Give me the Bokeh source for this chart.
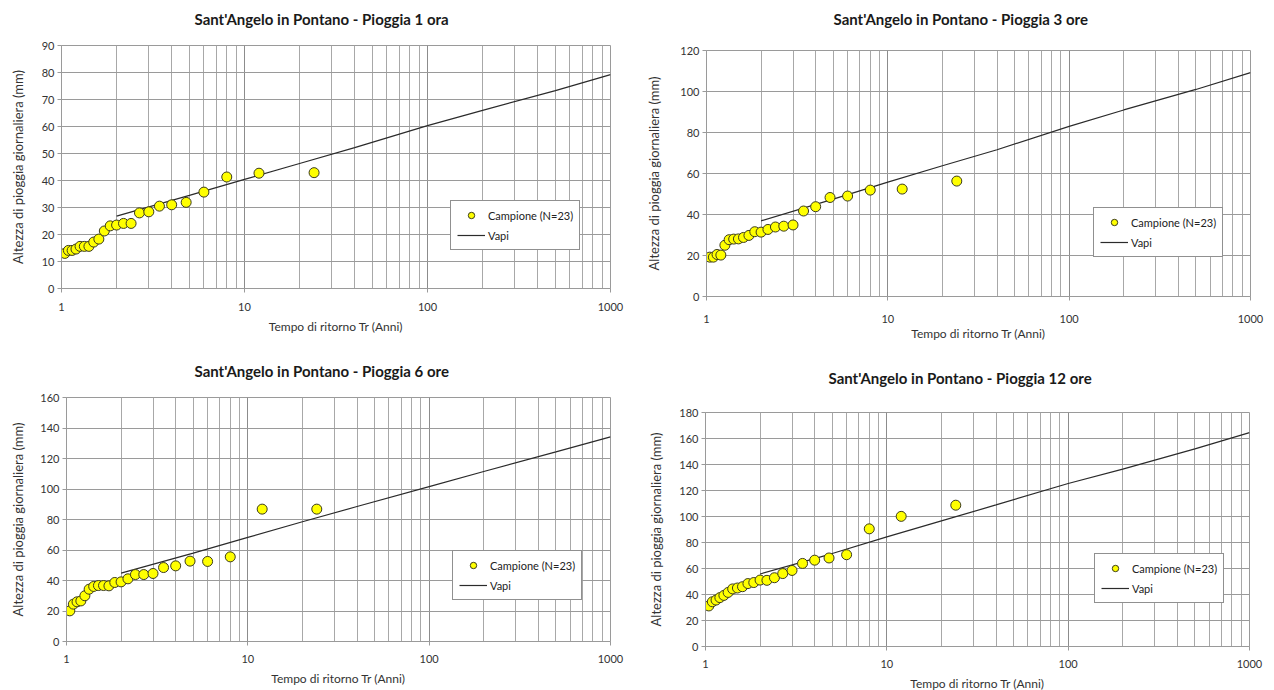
from bokeh.plotting import figure
from bokeh.models import (Range1d, FixedTicker, NumeralTickFormatter, Legend, LegendItem, Title)
from bokeh.layouts import column, row
from bokeh.embed import file_html
from bokeh.resources import INLINE

# Return periods (Weibull plotting positions, N=23)
tr = [1.043, 1.091, 1.143, 1.2, 1.263, 1.333, 1.412, 1.5, 1.6, 1.714, 1.846, 2.0,
      2.182, 2.4, 2.667, 3.0, 3.429, 4.0, 4.8, 6.0, 8.0, 12.0, 24.0]

h_1ora = [13.0, 14.1, 14.1, 14.6, 15.6, 15.6, 15.6, 17.2, 18.3, 21.3, 23.2, 23.5,
          24.1, 24.1, 28.0, 28.4, 30.5, 31.0, 31.9, 35.7, 41.3, 42.7, 42.9]
h_3ore = [19.2, 19.2, 20.5, 20.2, 25.0, 27.7, 28.0, 28.1, 28.8, 29.8, 31.6, 31.4,
          32.7, 33.9, 34.3, 34.9, 41.7, 43.8, 48.3, 49.0, 51.9, 52.4, 56.3]
h_6ore = [20.1, 24.5, 26.0, 26.6, 30.0, 34.3, 36.1, 36.7, 36.7, 36.5, 38.7, 39.1,
          41.1, 43.9, 43.9, 44.6, 48.5, 49.6, 52.7, 52.5, 55.5, 86.8, 86.8]
h_12ore = [31.2, 34.4, 35.7, 37.6, 39.3, 41.6, 44.3, 45.0, 46.0, 48.4, 49.2, 51.1,
           50.9, 52.9, 56.1, 58.5, 63.9, 66.4, 68.1, 70.6, 90.5, 100.1, 108.7]

# VAPI growth curves
vapi_tr = [2, 5, 10, 20, 40, 100, 200, 500, 1000]
vapi_1ora = [26.8, 34.5, 40.4, 46.3, 52.2, 60.3, 66.0, 73.3, 79.2]
vapi_3ore = [36.9, 47.5, 55.8, 63.8, 71.6, 83.0, 91.0, 101.0, 109.2]
vapi_6ore = [44.8, 58.0, 68.3, 78.5, 88.5, 101.6, 111.5, 124.3, 134.2]
vapi_12ore = [55.8, 71.5, 84.3, 96.6, 108.9, 125.4, 136.5, 152.0, 164.5]

titles = ["Sant'Angelo in Pontano - Pioggia 1 ora", "Sant'Angelo in Pontano - Pioggia 3 ore",
          "Sant'Angelo in Pontano - Pioggia 6 ore", "Sant'Angelo in Pontano - Pioggia 12 ore"]
ymax = [90, 120, 160, 180]
ystep = [10, 20, 20, 20]

FONT = "Lato"

# per panel: frame_w, frame_h, borders (l, r, t, b), top margin shift, title offset/standoff,
# legend location, x tick standoff, x label standoff, y label standoff
layouts = [
    dict(fw=549, fh=243, l=61, r=27, t=56, b=56, m=-11, toff=133, tst=35, leg=(389, 38), xs=10, xls=5, yls=13),
    dict(fw=544, fh=246, l=69, r=16, t=66, b=48, m=-16, toff=127, tst=45, leg=(387, 39), xs=14, xls=0, yls=15),
    dict(fw=544, fh=244, l=66, r=27, t=57, b=49, m=-4, toff=128, tst=36, leg=(386, 41), xs=9, xls=5, yls=11),
    dict(fw=544, fh=234, l=68, r=17, t=72, b=44, m=-4, toff=123, tst=51, leg=(389, 43), xs=9, xls=5, yls=12),
]

series = [(h_1ora, vapi_1ora), (h_3ore, vapi_3ore), (h_6ore, vapi_6ore), (h_12ore, vapi_12ore)]

figs = []
for i in range(4):
    L = layouts[i]
    hs, vp = series[i]
    p = figure(frame_width=L["fw"], frame_height=L["fh"], x_axis_type="log",
               x_range=Range1d(1, 1000), y_range=Range1d(0, ymax[i]),
               output_backend="svg", toolbar_location=None,
               min_border_left=L["l"], min_border_right=L["r"],
               min_border_top=L["t"], min_border_bottom=L["b"],
               margin=(L["m"], 0, 0, 0))
    p.title = Title(text=titles[i], align="left", offset=L["toff"], standoff=L["tst"],
                    text_font=FONT, text_font_size="15px", text_font_style="bold",
                    text_color="#1a1a1a")
    p.background_fill_color = "white"
    p.border_fill_color = None
    p.outline_line_color = "#9a9a9a"

    xt = FixedTicker(ticks=[1, 10, 100, 1000],
                     minor_ticks=[2, 3, 4, 5, 6, 7, 8, 9, 20, 30, 40, 50, 60, 70, 80, 90,
                                  200, 300, 400, 500, 600, 700, 800, 900])
    p.xaxis.ticker = xt
    p.xgrid.ticker = xt
    p.xaxis.formatter = NumeralTickFormatter(format="0")
    yt = FixedTicker(ticks=list(range(0, ymax[i] + 1, ystep[i])))
    p.yaxis.ticker = yt
    p.ygrid.ticker = yt

    p.xgrid.grid_line_color = "#8c8c8c"
    p.xgrid.minor_grid_line_color = "#a8a8a8"
    p.ygrid.grid_line_color = "#9a9a9a"

    for ax in (p.xaxis, p.yaxis):
        ax.axis_line_color = "#9a9a9a"
        ax.major_tick_line_color = "#9a9a9a"
        ax.major_tick_out = 4
        ax.major_tick_in = 0
        ax.minor_tick_line_color = None
        ax.major_label_text_font = FONT
        ax.major_label_text_font_size = "11px"
        ax.major_label_text_color = "#333333"
        ax.axis_label_text_font = FONT
        ax.axis_label_text_font_style = "normal"
        ax.axis_label_text_color = "#333333"
    p.xaxis.axis_label = "Tempo di ritorno Tr (Anni)"
    p.yaxis.axis_label = "Altezza di pioggia giornaliera (mm)"
    p.xaxis.axis_label_text_font_size = "12px"
    p.yaxis.axis_label_text_font_size = "13px"
    p.xaxis.major_label_standoff = L["xs"]
    p.xaxis.axis_label_standoff = L["xls"]
    p.yaxis.major_label_standoff = 3
    p.yaxis.axis_label_standoff = L["yls"]

    r_line = p.line(vapi_tr, vp, line_color="#2b2b2b", line_width=1.2)
    r_pts = p.scatter(tr, hs, size=10, fill_color="#ffff00", line_color="#3b3b1e", line_width=1)

    leg = Legend(items=[LegendItem(label="Campione (N=23)", renderers=[r_pts]),
                        LegendItem(label="Vapi", renderers=[r_line])],
                 location=L["leg"], border_line_color="#222222", border_line_width=1,
                 background_fill_color="white", background_fill_alpha=1,
                 label_text_font=FONT, label_text_font_size="11px", label_text_color="#222222",
                 glyph_width=28, glyph_height=16, label_height=16, spacing=4, padding=6,
                 label_standoff=3, margin=0)
    p.add_layout(leg, "center")
    figs.append(p)

layout = column(row(column(figs[0]), column(figs[1])), row(column(figs[2]), column(figs[3])))
open("out.html", "w").write(file_html(layout, INLINE))
